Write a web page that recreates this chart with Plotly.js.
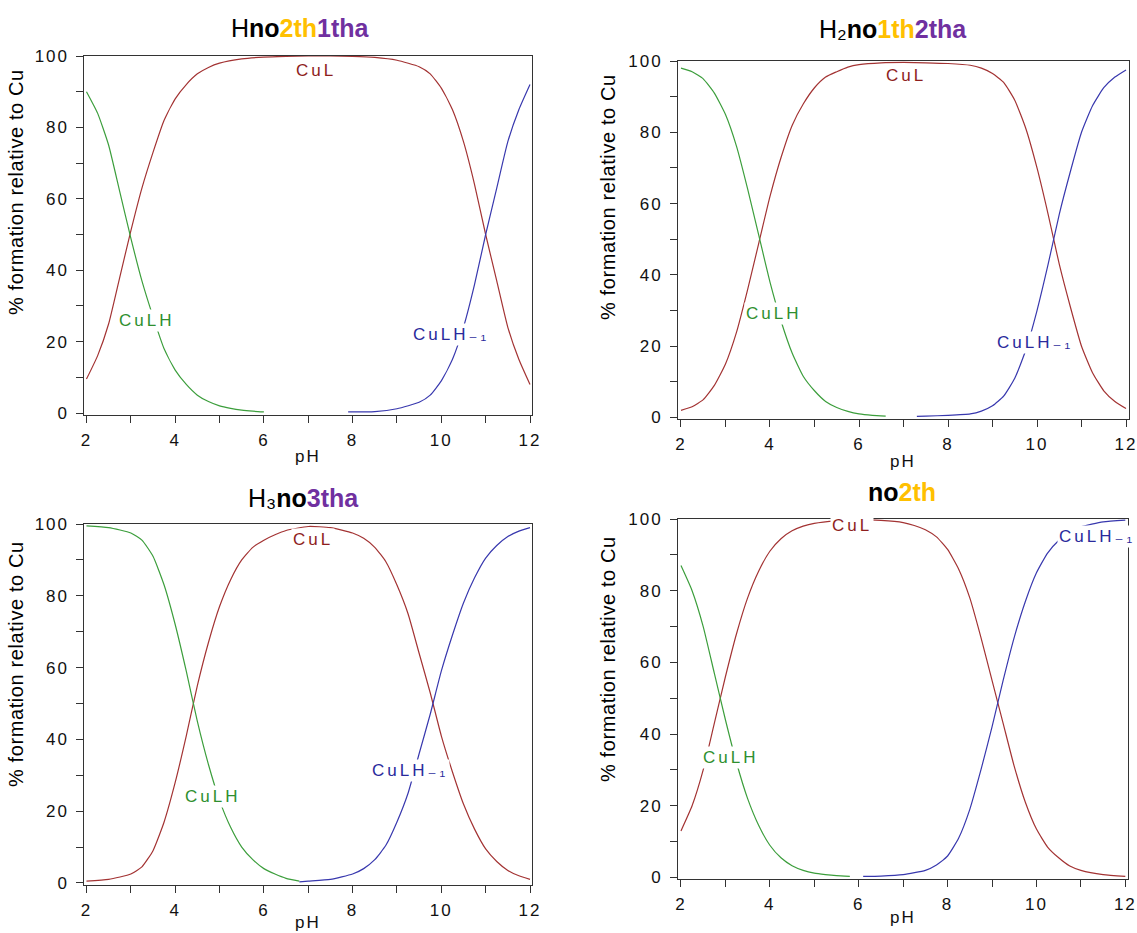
<!DOCTYPE html>
<html>
<head>
<meta charset="utf-8">
<script src="https://cdn.plot.ly/plotly-3.0.1.min.js"></script>
<style>
  html, body { margin: 0; padding: 0; background: #fff; }
  #chart { width: 1137px; height: 933px; }
  g[class*="tick"] text { letter-spacing: 2px; }
  text[data-unformatted^="CuL"] { letter-spacing: 3px; }
  text[data-unformatted="pH"] { letter-spacing: 2px; }
  text[data-unformatted^="%"] { letter-spacing: 0.6px; }
</style>
</head>
<body>
<div id="chart"></div>
<script>
// ---------- Panel 1: Hno2th1tha ----------
const p1_ph_CuLH  = [2,2.25,2.5,2.75,3,3.25,3.5,3.75,4,4.25,4.5,4.75,5,5.25,5.5,5.75,6];
const p1_CuLH     = [90,84,75,62,49,37,27,18,12,8,5,3.2,2,1.3,0.8,0.5,0.3];
const p1_ph_CuL   = [2,2.25,2.5,2.75,3,3.25,3.5,3.75,4,4.25,4.5,4.75,5,5.5,6,6.5,7,7.5,8,8.5,9,9.5,9.75,10,10.25,10.5,10.75,11,11.25,11.5,11.75,12];
const p1_CuL      = [9.5,16,25,38,51,63,73,82,88,92,95,96.8,98,99.2,99.7,99.9,100,100,99.9,99.6,98.8,97,95,91,85,76,64,50,37,24,15,8];
const p1_ph_CuLH1 = [7.9,8.5,9,9.5,9.75,10,10.25,10.5,10.75,11,11.25,11.5,11.75,12];
const p1_CuLH1    = [0.3,0.4,1.2,3,5,9,15,24,36,50,63,76,85,92];

// ---------- Panel 2: H2no1th2tha ----------
const p2_ph_CuLH  = [2,2.25,2.5,2.75,3,3.25,3.5,3.75,4,4.25,4.5,4.75,5,5.25,5.5,5.75,6,6.3,6.6];
const p2_CuLH     = [98,97,95,91,85,76,64,51,38,27,18,11.5,7.5,4.5,2.8,1.7,1.0,0.6,0.4];
const p2_ph_CuL   = [2,2.25,2.5,2.75,3,3.25,3.5,3.75,4,4.25,4.5,4.75,5,5.25,5.5,5.75,6,6.5,7,7.5,8,8.5,8.75,9,9.25,9.5,9.75,10,10.25,10.5,10.75,11,11.25,11.5,11.75,12];
const p2_CuL      = [2,3,5,9,15,24,36,49,62,73,82,88,92.5,95.5,97,98.3,99,99.5,99.6,99.5,99.3,98.8,98,96.5,94,89,81,70,57,43,31,20,12.5,7.5,4.5,2.5];
const p2_ph_CuLH1 = [7.3,7.5,8,8.5,8.75,9,9.25,9.5,9.75,10,10.25,10.5,10.75,11,11.25,11.5,11.75,12];
const p2_CuLH1    = [0.3,0.4,0.6,1,1.8,3.3,6,11,19,30,43,57,69,80,87.5,92.5,95.5,97.5];

// ---------- Panel 3: H3no3tha ----------
const p3_ph_CuLH  = [2,2.5,3,3.25,3.5,3.75,4,4.25,4.5,4.75,5,5.25,5.5,5.75,6,6.25,6.5,6.8];
const p3_CuLH     = [99.5,99,97.5,95.5,91,83,72,59,45,33,23,15.5,10,6.5,4,2.5,1.3,0.5];
const p3_ph_CuL   = [2,2.5,3,3.25,3.5,3.75,4,4.25,4.5,4.75,5,5.25,5.5,5.75,6,6.25,6.5,7,7.5,8,8.25,8.5,8.75,9,9.25,9.5,9.75,10,10.25,10.5,10.75,11,11.25,11.5,11.75,12];
const p3_CuL      = [0.5,1,2.5,4.5,9,17,28,41,55,67,77,84.5,90,93.5,95.5,97,98.2,99.3,99,97.5,96,93.5,89.5,83,75,64,53,41,31,22,15,9.5,6,3.5,2,1];
const p3_ph_CuLH1 = [6.8,7,7.5,8,8.25,8.5,8.75,9,9.25,9.5,9.75,10,10.25,10.5,10.75,11,11.25,11.5,11.75,12];
const p3_CuLH1    = [0.3,0.5,1,2.5,4,6.5,10.5,17,25,36,47,59,69,78,85,90.5,94,96.5,98,99];

// ---------- Panel 4: no2th ----------
const p4_ph_CuLH  = [2,2.25,2.5,2.75,3,3.25,3.5,3.75,4,4.25,4.5,4.75,5,5.25,5.5,5.8];
const p4_CuLH     = [87,80,70,57,44,32,22,14.5,9,5.5,3.3,2,1.2,0.8,0.5,0.3];
const p4_ph_CuL   = [2,2.25,2.5,2.75,3,3.25,3.5,3.75,4,4.25,4.5,4.75,5,5.5,6,6.5,7,7.25,7.5,7.75,8,8.25,8.5,8.75,9,9.25,9.5,9.75,10,10.25,10.5,10.75,11,11.5,12];
const p4_CuL      = [13,20,30,43,56,68,78,85.5,91,94.5,96.7,98,98.8,99.5,99.8,99.6,99,98.2,97,95,91.5,86,78,67,55,43,31,21,13.5,8.5,5.5,3.2,2,0.8,0.3];
const p4_ph_CuLH1 = [6.1,6.5,7,7.5,7.75,8,8.25,8.5,8.75,9,9.25,9.5,9.75,10,10.25,10.5,10.75,11,11.5,12];
const p4_CuLH1    = [0.3,0.4,0.8,2,3.5,6,11,19,30,42,55,67,77,85,90.5,94,96.3,97.8,99.2,99.7];

// ---------- Titles and labels ----------
const panelTitles = [
  'H<b>no</b><span style="color:#FFC000"><b>2th</b></span><span style="color:#7030A0"><b>1tha</b></span>',
  'H₂<b>no</b><span style="color:#FFC000"><b>1th</b></span><span style="color:#7030A0"><b>2tha</b></span>',
  'H₃<b>no</b><span style="color:#7030A0"><b>3tha</b></span>',
  '<b>no</b><span style="color:#FFC000"><b>2th</b></span>'
];
const speciesNames = ['CuL', 'CuLH', 'CuLH₋₁'];
const xTitle = 'pH';
const yTitle = '% formation relative to Cu';
const xTickVals = [2,4,6,8,10,12];
const yTickVals = [0,20,40,60,80,100];
// label anchor points (pH, %) per panel: CuL, CuLH, CuLH-1
const labelPH  = [[7.17,3.36,10.22],[7.06,4.07,9.96],[7.11,4.85,9.29],[5.84,3.12,11.37]];
const labelPct = [[95.8,25.8,22],[96,29.3,21],[95.8,24,31.2],[98.3,33.6,95]];

// ---------- Layout geometry (pixels) ----------
const W = 1137, H = 933;
const FONT = 'Liberation Sans, Arial, Helvetica, DejaVu Sans, sans-serif';
const lineCol = {CuL:'#A33333', CuLH:'#3C9E3C', CuLH1:'#3838AE'};
const textCol = {CuL:'#8E1E1E', CuLH:'#2F8F2F', CuLH1:'#2A2A9C'};

const panels = [
  {xs:[p1_ph_CuL,p1_ph_CuLH,p1_ph_CuLH1], ys:[p1_CuL,p1_CuLH,p1_CuLH1],
   px:[84.4,532], py:[56,415], xr:[1.953,12.045], yr:[-0.56,100], title:[300,28], ytitle:[16,192], xt:[308,456]},
  {xs:[p2_ph_CuL,p2_ph_CuLH,p2_ph_CuLH1], ys:[p2_CuL,p2_CuLH,p2_CuLH1],
   px:[678,1129], py:[61,418.5], xr:[1.933,12.067], yr:[-0.28,100], title:[893,29], ytitle:[608,197], xt:[903,461]},
  {xs:[p3_ph_CuL,p3_ph_CuLH,p3_ph_CuLH1], ys:[p3_CuL,p3_CuLH,p3_CuLH1],
   px:[84.4,532], py:[524,884.5], xr:[1.953,12.045], yr:[-0.42,100], title:[303,498], ytitle:[16,664], xt:[308,922]},
  {xs:[p4_ph_CuL,p4_ph_CuLH,p4_ph_CuLH1], ys:[p4_CuL,p4_CuLH,p4_CuLH1],
   px:[678,1128], py:[519,878.5], xr:[1.933,12.06], yr:[-0.28,100], title:[902,492], ytitle:[608,659], xt:[903,917]}
];

const traces = [];
const layout = {
  width: W, height: H,
  margin: {l:0, r:0, t:0, b:0},
  paper_bgcolor: '#fff', plot_bgcolor: '#fff',
  showlegend: false,
  font: {family: FONT, color: '#111'},
  annotations: []
};

const keys = ['CuL','CuLH','CuLH1'];
panels.forEach((p, i) => {
  const n = i === 0 ? '' : String(i + 1);
  const xa = 'x' + n, ya = 'y' + n;
  for (let s = 0; s < 3; s++) {
    traces.push({
      type: 'scatter', mode: 'lines',
      x: p.xs[s], y: p.ys[s], xaxis: xa, yaxis: ya,
      name: speciesNames[s],
      line: {color: lineCol[keys[s]], width: 1.2, shape: 'spline', smoothing: 0.5},
      hoverinfo: 'skip'
    });
  }
  const common = {
    showgrid: false, zeroline: false, showline: true, mirror: true,
    linecolor: '#333', linewidth: 1,
    ticks: 'outside', ticklen: 7, tickwidth: 1, tickcolor: '#333',
    tickfont: {family: FONT, size: 17, color: '#111'},
    ticklabeloverflow: 'allow',
    fixedrange: true
  };
  layout['xaxis' + n] = Object.assign({}, common, {
    domain: [p.px[0] / W, p.px[1] / W], range: p.xr, anchor: ya,
    tickmode: 'array', tickvals: xTickVals, ticklabelstandoff: 3,
    minor: {dtick: 1, tick0: 1, ticks: 'outside', ticklen: 7, tickwidth: 1, tickcolor: '#333'}
  });
  layout['yaxis' + n] = Object.assign({}, common, {
    domain: [1 - p.py[1] / H, 1 - p.py[0] / H], range: p.yr, anchor: xa,
    tickmode: 'array', tickvals: yTickVals, ticklabelstandoff: 4,
    minor: {dtick: 10, tick0: 10, ticks: 'outside', ticklen: 7, tickwidth: 1, tickcolor: '#333'}
  });
  // panel title
  layout.annotations.push({
    xref: 'paper', yref: 'paper', x: p.title[0] / W, y: 1 - p.title[1] / H,
    xanchor: 'center', yanchor: 'middle', showarrow: false,
    text: panelTitles[i], font: {family: FONT, size: 25, color: '#000'}
  });
  // y axis title
  layout.annotations.push({
    xref: 'paper', yref: 'paper', x: p.ytitle[0] / W, y: 1 - p.ytitle[1] / H,
    xanchor: 'center', yanchor: 'middle', showarrow: false, textangle: -90,
    text: yTitle, font: {family: FONT, size: 20, color: '#000'}
  });
  // x axis title
  layout.annotations.push({
    xref: 'paper', yref: 'paper', x: p.xt[0] / W, y: 1 - p.xt[1] / H,
    xanchor: 'center', yanchor: 'middle', showarrow: false,
    text: xTitle, font: {family: FONT, size: 17, color: '#111'}
  });
  // species labels
  for (let s = 0; s < 3; s++) {
    layout.annotations.push({
      xref: xa, yref: ya, x: labelPH[i][s], y: labelPct[i][s],
      xanchor: 'center', yanchor: 'middle', showarrow: false,
      text: speciesNames[s], bgcolor: '#fff', borderpad: 1,
      font: {family: FONT, size: 17, color: textCol[keys[s]]}
    });
  }
});

Plotly.newPlot('chart', traces, layout, {staticPlot: true, displayModeBar: false});
</script>
</body>
</html>
